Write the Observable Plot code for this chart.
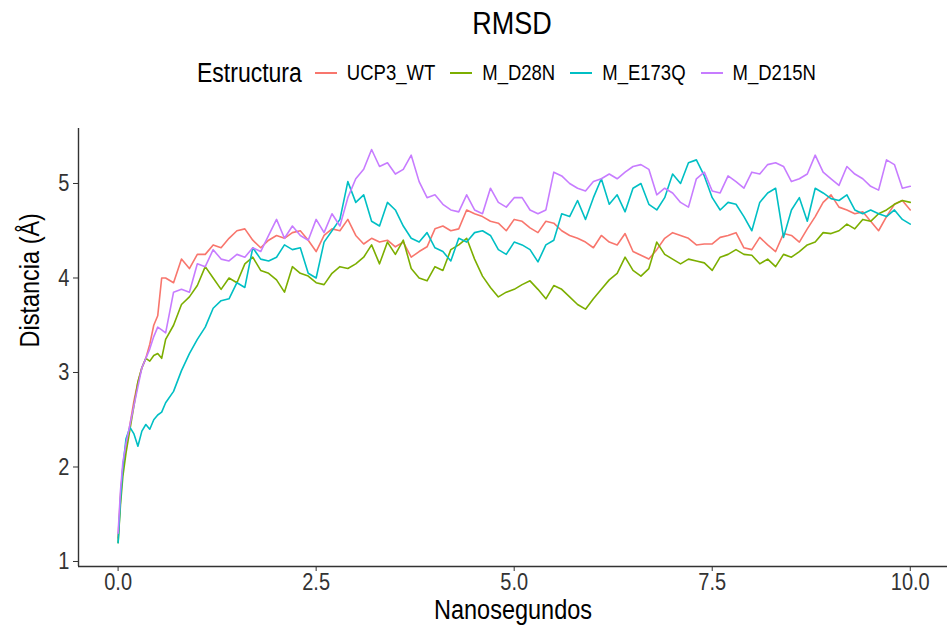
<!DOCTYPE html>
<html>
<head>
<meta charset="utf-8">
<script src="https://cdn.jsdelivr.net/npm/d3@7"></script>
<script src="https://cdn.jsdelivr.net/npm/@observablehq/plot@0.6"></script>
<style>
  body { margin: 0; background: #fff; font-family: "Liberation Sans", Arial, sans-serif; }
  #wrap { position: relative; width: 947px; height: 631px; overflow: hidden; }
  #title { position: absolute; left: 312px; width: 400px; top: 11px; text-align: center;
           font-size: 27px; line-height: 1; color: #000; transform: scaleY(1.17); transform-origin: 50% 50%; }
  #legend { position: absolute; left: 197px; top: 60px; height: 26px; display: flex; align-items: center; color: #000; }
  #legend .ttl, #legend .lab { display: inline-block; transform: scaleY(1.17); }
  #legend .ttl { font-size: 23px; }
  #legend .key { width: 22px; height: 2px; margin-left: 13px; margin-right: 10px; }
  #legend .key.next { margin-left: 15px; }
  #legend .lab { font-size: 18.5px; }
  #chart { position: absolute; left: 0; top: 100px; }
</style>
</head>
<body>
<div id="wrap">
  <div id="title">RMSD</div>
  <div id="legend"></div>
  <div id="chart"></div>
</div>
<script>
// Simulation time (ns) at which each RMSD value was sampled
const tiempo = [
  0, 0.03, 0.06, 0.1, 0.15, 0.2, 0.25, 0.3, 0.35, 0.4, 0.45, 0.5, 0.55, 0.6,
  0.7, 0.8, 0.9, 1.0,
  1.1, 1.2, 1.3, 1.4, 1.5, 1.6, 1.7, 1.8, 1.9, 2.0,
  2.1, 2.2, 2.3, 2.4, 2.5, 2.6, 2.7, 2.8, 2.9, 3.0,
  3.1, 3.2, 3.3, 3.4, 3.5, 3.6, 3.7, 3.8, 3.9, 4.0,
  4.1, 4.2, 4.3, 4.4, 4.5, 4.6, 4.7, 4.8, 4.9, 5.0,
  5.1, 5.2, 5.3, 5.4, 5.5, 5.6, 5.7, 5.8, 5.9, 6.0,
  6.1, 6.2, 6.3, 6.4, 6.5, 6.6, 6.7, 6.8, 6.9, 7.0,
  7.1, 7.2, 7.3, 7.4, 7.5, 7.6, 7.7, 7.8, 7.9, 8.0,
  8.1, 8.2, 8.3, 8.4, 8.5, 8.6, 8.7, 8.8, 8.9, 9.0,
  9.1, 9.2, 9.3, 9.4, 9.5, 9.6, 9.7, 9.8, 9.9, 10.0
];

// RMSD (Å) for each structure
const ucp3_wt = [
  1.25, 1.7, 2.0, 2.2, 2.45, 2.7, 2.9, 3.05, 3.15, 3.3, 3.5, 3.6, 4.0, 4.0,
  3.95, 4.2, 4.1, 4.25,
  4.25, 4.35, 4.32, 4.42, 4.5, 4.52, 4.4, 4.32, 4.4, 4.45,
  4.42, 4.48, 4.5, 4.4, 4.28, 4.45, 4.52, 4.5, 4.62, 4.45,
  4.36, 4.42, 4.38, 4.4, 4.33, 4.38, 4.22, 4.28, 4.33, 4.52,
  4.55, 4.5, 4.52, 4.72, 4.68, 4.65, 4.6, 4.58, 4.5, 4.62,
  4.6, 4.53, 4.48, 4.6, 4.58, 4.5, 4.45, 4.42, 4.38, 4.32,
  4.45, 4.38, 4.35, 4.47, 4.28, 4.24, 4.2, 4.3, 4.42, 4.48,
  4.45, 4.42, 4.35, 4.36, 4.36, 4.43, 4.45, 4.48, 4.32, 4.3,
  4.43, 4.35, 4.28, 4.47, 4.45, 4.38, 4.52, 4.65, 4.8, 4.88,
  4.75, 4.72, 4.68, 4.7, 4.6, 4.5, 4.65, 4.78, 4.82, 4.72
];
const m_d28n = [
  1.2, 1.6, 1.9, 2.15, 2.4, 2.65, 2.9, 3.05, 3.15, 3.12, 3.18, 3.2, 3.15, 3.35,
  3.5, 3.72, 3.8, 3.92,
  4.12, 4.0, 3.88, 4.0, 3.95, 4.15, 4.22, 4.08, 4.05, 3.98,
  3.85, 4.12, 4.05, 4.02, 3.95, 3.93, 4.05, 4.12, 4.1, 4.15,
  4.22, 4.35, 4.15, 4.38, 4.25, 4.4, 4.1, 4.0, 3.97, 4.12,
  4.08, 4.3, 4.35, 4.42, 4.2, 4.02, 3.9, 3.8, 3.85, 3.88,
  3.93, 3.97, 3.88, 3.78, 3.92, 3.88, 3.8, 3.72, 3.67, 3.78,
  3.88, 3.98, 4.05, 4.22, 4.08, 4.02, 4.1, 4.38, 4.25, 4.2,
  4.15, 4.2, 4.18, 4.16, 4.08, 4.22, 4.25, 4.3, 4.25, 4.24,
  4.15, 4.2, 4.12, 4.25, 4.22, 4.28, 4.35, 4.38, 4.48, 4.47,
  4.5, 4.57, 4.52, 4.62, 4.6, 4.68, 4.72, 4.78, 4.82, 4.8
];
const m_e173q = [
  1.2, 1.65, 2.0, 2.3, 2.42, 2.35, 2.22, 2.38, 2.45, 2.4, 2.5, 2.55, 2.58, 2.68,
  2.8, 3.02, 3.2, 3.35,
  3.48, 3.68, 3.76, 3.78, 3.95, 3.9, 4.32, 4.2, 4.18, 4.22,
  4.35, 4.3, 4.32, 4.05, 4.0, 4.38, 4.5, 4.62, 5.02, 4.8,
  4.88, 4.6, 4.55, 4.8, 4.72, 4.55, 4.42, 4.38, 4.48, 4.32,
  4.28, 4.18, 4.42, 4.38, 4.48, 4.5, 4.45, 4.3, 4.25, 4.38,
  4.35, 4.3, 4.17, 4.35, 4.4, 4.68, 4.65, 4.82, 4.62, 4.85,
  5.05, 4.78, 4.88, 4.7, 4.95, 5.0, 4.78, 4.72, 4.85, 5.1,
  5.0, 5.22, 5.25, 5.08, 4.85, 4.72, 4.8, 4.78, 4.65, 4.5,
  4.8, 4.9, 4.95, 4.43, 4.72, 4.85, 4.6, 4.95, 4.9, 4.84,
  4.82, 4.88, 4.72, 4.68, 4.72, 4.68, 4.65, 4.72, 4.62, 4.57
];
const m_d215n = [
  1.3, 1.75, 2.05, 2.25, 2.45, 2.65, 2.85, 3.05, 3.15, 3.25, 3.38, 3.48, 3.45, 3.42,
  3.85, 3.88, 3.85, 4.15,
  4.12, 4.3, 4.2, 4.18, 4.25, 4.22, 4.32, 4.28, 4.45, 4.62,
  4.42, 4.55, 4.45, 4.4, 4.62, 4.48, 4.68, 4.55, 4.85, 5.05,
  5.15, 5.36, 5.18, 5.22, 5.1, 5.15, 5.3, 5.02, 4.85, 4.88,
  4.78, 4.72, 4.7, 4.88, 4.72, 4.68, 4.95, 4.8, 4.75, 4.85,
  4.85, 4.72, 4.68, 4.72, 5.12, 5.08, 5.0, 4.95, 4.92, 5.02,
  5.05, 5.1, 5.05, 5.12, 5.18, 5.2, 5.15, 4.88, 4.95, 4.9,
  4.8, 4.75, 5.05, 5.12, 4.92, 4.9, 5.08, 5.02, 4.95, 5.12,
  5.1, 5.2, 5.22, 5.18, 5.02, 5.05, 5.1, 5.3, 5.12, 5.05,
  4.98, 5.18, 5.1, 5.05, 4.97, 4.93, 5.25, 5.2, 4.95, 4.97
];

const estructuras = ["UCP3_WT", "M_D28N", "M_E173Q", "M_D215N"];
const colores = ["#F8766D", "#7CAE00", "#00BFC4", "#C77CFF"];
const xTicks = [0, 2.5, 5, 7.5, 10];
const yTicks = [1, 2, 3, 4, 5];

const valores = [ucp3_wt, m_d28n, m_e173q, m_d215n];
const filas = estructuras.flatMap((nombre, k) =>
  tiempo.map((t, i) => ({ t, rmsd: valores[k][i], estructura: nombre }))
);

const xDom = [-0.5, 10.47];
const yDom = [0.947, 5.582];

// Legend row: title followed by a line key and label per structure
const legend = document.getElementById("legend");
const ttl = document.createElement("span");
ttl.className = "ttl";
ttl.textContent = "Estructura";
legend.appendChild(ttl);
estructuras.forEach((nombre, k) => {
  const key = document.createElement("span");
  key.className = "key" + (k > 0 ? " next" : "");
  key.style.background = colores[k];
  legend.appendChild(key);
  const lab = document.createElement("span");
  lab.className = "lab";
  lab.textContent = nombre;
  legend.appendChild(lab);
});

const chart = Plot.plot({
  width: 947,
  height: 531,
  marginTop: 28,
  marginBottom: 65,
  marginLeft: 78,
  marginRight: 0,
  style: { fontFamily: "Liberation Sans, Arial, sans-serif", fontSize: "20px", background: "#fff" },
  x: { domain: xDom },
  y: { domain: yDom },
  color: { domain: estructuras, range: colores },
  marks: [
    Plot.line(filas, { x: "t", y: "rmsd", z: "estructura", stroke: "estructura", strokeWidth: 1.6, strokeLinejoin: "round" }),
    Plot.ruleX([xDom[0]], { stroke: "#333", strokeWidth: 1.4 }),
    Plot.ruleY([yDom[0]], { stroke: "#333", strokeWidth: 1.4 }),
    Plot.axisX({ ticks: xTicks, tickFormat: d3.format(".1f"), tickSize: 5, tickPadding: 3, color: "#333", fontSize: 20, label: null }),
    Plot.axisY({ ticks: yTicks, tickFormat: d3.format("d"), tickSize: 5, tickPadding: 4, color: "#333", fontSize: 20, label: null }),
    Plot.text(["Nanosegundos"], { text: d => d, frameAnchor: "bottom", dy: 51, fontSize: 23.5, fill: "#000" }),
    Plot.text(["Distancia (Å)"], { text: d => d, frameAnchor: "left", rotate: -90, dx: -48, fontSize: 23.5, fill: "#000" })
  ]
});
document.getElementById("chart").appendChild(chart);

// Slightly taller glyphs: stretch each label vertically about its own centre
chart.querySelectorAll("text").forEach(el => {
  const b = el.getBBox();
  const cy = b.y + b.height / 2;
  const prev = el.getAttribute("transform") || "";
  el.setAttribute("transform", `${prev} translate(0,${cy}) scale(1,1.17) translate(0,${-cy})`.trim());
});
</script>
</body>
</html>
